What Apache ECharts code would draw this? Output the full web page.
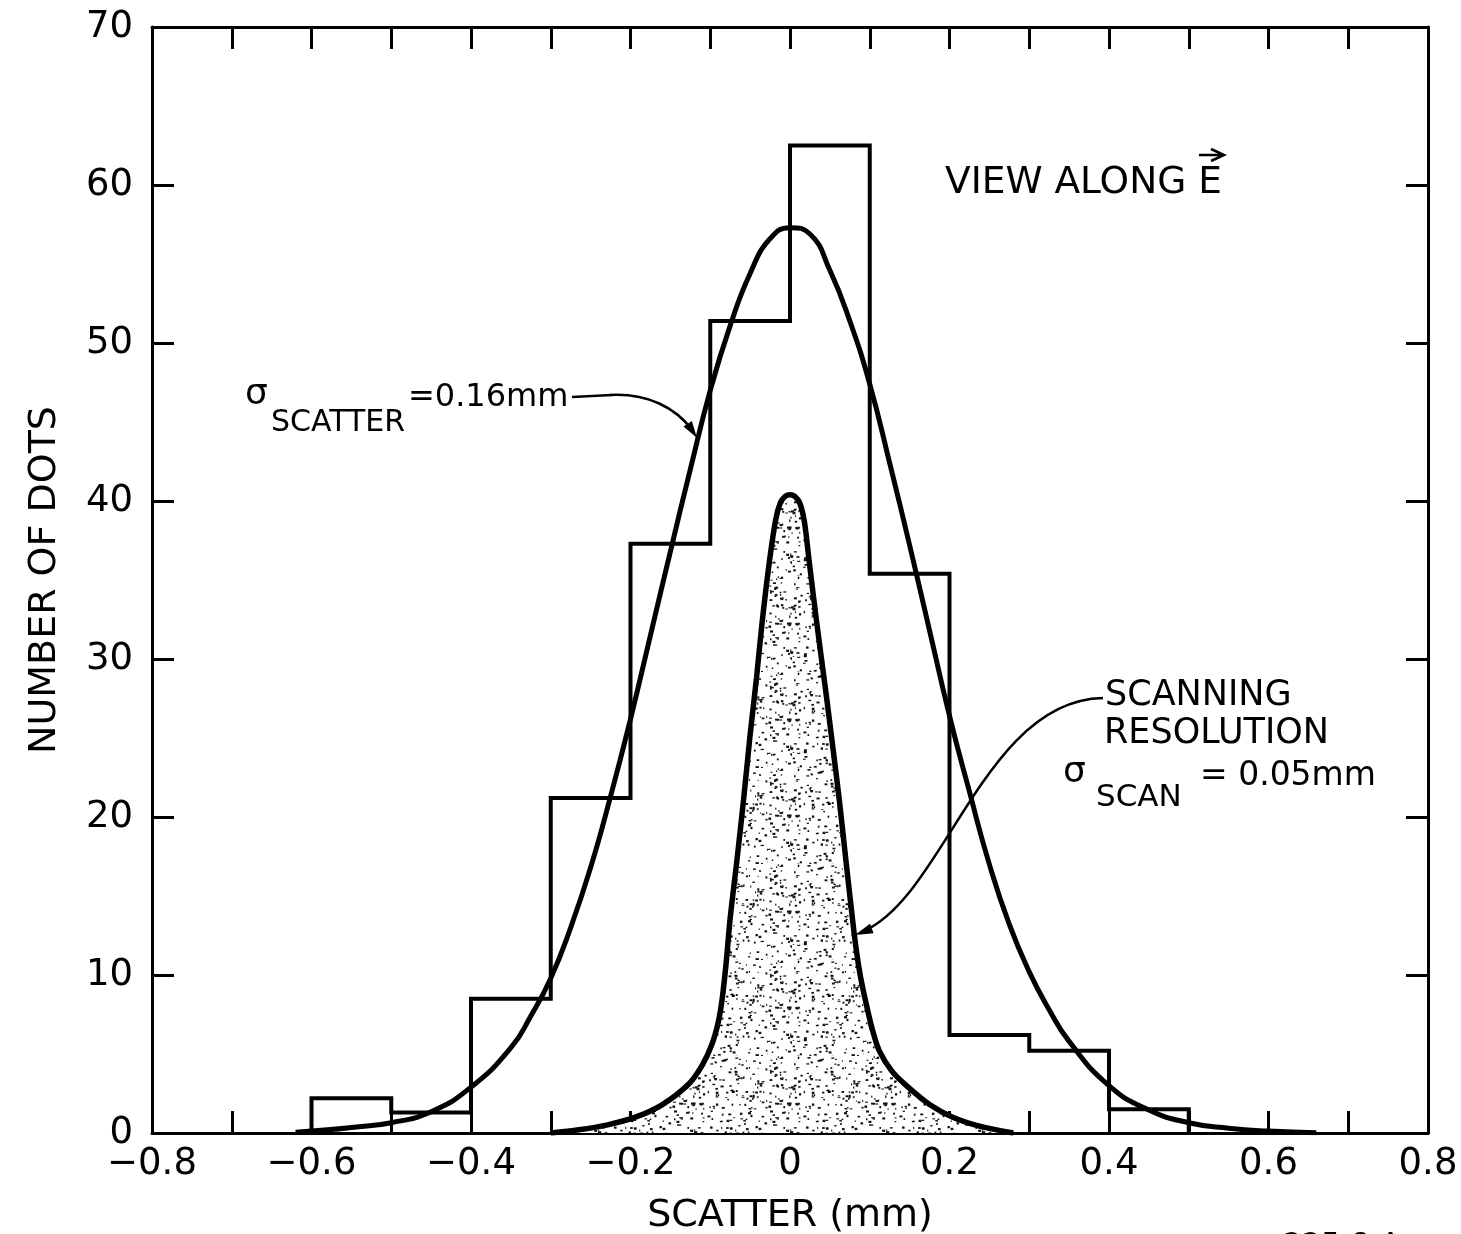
<!DOCTYPE html>
<html>
<head>
<meta charset="utf-8">
<script src="https://cdn.jsdelivr.net/npm/echarts@6/dist/echarts.min.js"></script>
<style>
html,body{margin:0;padding:0;background:#fff;}
#chart{width:1461px;height:1234px;}
</style>
</head>
<body>
<div id="chart"></div>
<script>
// ---- data ----
const xTickLabels = ['\u22120.8','\u22120.6','\u22120.4','\u22120.2','0','0.2','0.4','0.6','0.8'];
const yTickLabels = ['0','10','20','30','40','50','60','70'];

// histogram bin edges and counts
const binEdges  = [-0.6,-0.5,-0.4,-0.3,-0.2,-0.1,0.0,0.1,0.2,0.3,0.4,0.5];
const binCounts = [2.2, 1.3, 8.5, 21.2, 37.3, 51.4, 62.5, 35.4, 6.2, 5.2, 1.5];

// fitted scatter curve (sigma = 0.16 mm)
const scatterX = [-0.62,-0.58,-0.55,-0.50,-0.45,-0.40,-0.35,-0.325,-0.30,-0.275,-0.25,-0.225,-0.20,-0.175,-0.15,-0.125,-0.10,-0.075,-0.05,-0.025,0.00,0.025,0.05,0.075,0.10,0.125,0.15,0.175,0.20,0.225,0.25,0.275,0.30,0.325,0.35,0.40,0.45,0.50,0.55,0.60,0.66];
const scatterY = [0.05,0.2,0.35,0.65,1.35,2.9,5.4,7.4,9.8,13.0,16.8,21.3,26.2,31.5,36.8,42.0,47.0,51.1,54.4,56.6,57.3,56.9,54.6,51.4,47.4,42.4,37.2,31.8,26.4,21.6,17.0,13.2,10.2,7.8,5.8,3.0,1.45,0.65,0.3,0.12,0.02];

// scanning resolution curve (sigma = 0.05 mm)
const scanX = [-0.30,-0.265,-0.23,-0.194,-0.16,-0.127,-0.11,-0.098,-0.09,-0.085,-0.08,-0.075,-0.066,-0.058,-0.05,-0.042,-0.035,-0.026,-0.018,-0.012,-0.006,0.0,0.006,0.012,0.018,0.024,0.033,0.045,0.054,0.062,0.07,0.076,0.082,0.088,0.095,0.103,0.112,0.128,0.146,0.175,0.204,0.24,0.28];
const scanY = [0.0,0.2,0.5,1.0,1.8,3.1,4.3,5.6,7.0,8.5,10.8,13.6,17.5,21.2,25.2,28.8,32.3,36.1,38.8,39.9,40.3,40.4,40.3,39.9,38.7,36.2,32.5,27.9,24.3,21.0,17.3,14.6,12.0,10.0,8.3,6.6,5.2,3.9,3.0,1.8,1.0,0.4,0.0];

// ---- build series data ----
const histData = [[binEdges[0], 0]];
for (let i = 0; i < binCounts.length; i++) {
  histData.push([binEdges[i], binCounts[i]]);
  histData.push([binEdges[i + 1], binCounts[i]]);
}
histData.push([binEdges[binEdges.length - 1], 0]);
const scatterData = scatterX.map((x, i) => [x, scatterY[i]]);
const scanData = scanX.map((x, i) => [x, scanY[i]]);

// stipple texture (decorative only)
function makeStipple() {
  const c = document.createElement('canvas');
  c.width = 96; c.height = 96;
  const g = c.getContext('2d');
  g.fillStyle = '#fff'; g.fillRect(0, 0, 96, 96);
  g.fillStyle = '#111';
  let s = 987654;
  const r = () => { s = (s * 1103515245 + 12345) % 2147483648; return s / 2147483648; };
  for (let i = 0; i < 280; i++) {
    const x = r() * 96, y = r() * 96;
    const w = 1 + r() * 2.2, h = 1 + r() * 1.4;
    g.fillRect(x, y, w, h);
  }
  return c;
}

const FONT = '"DejaVu Sans", "Liberation Sans", sans-serif';
const chart = echarts.init(document.getElementById('chart'), null, {renderer: 'canvas'});

const axisLine = {show: true, onZero: false, lineStyle: {color: '#000', width: 3}};
const axisTick = {show: true, inside: true, length: 22, lineStyle: {color: '#000', width: 3}};

chart.setOption({
  animation: false,
  backgroundColor: '#fff',
  grid: {left: 152, right: 33, top: 27, bottom: 101, containLabel: false, outerBoundsMode: 'none'},
  xAxis: [
    {
      type: 'value', min: -0.8, max: 0.8, interval: 0.1, position: 'bottom',
      axisLine, axisTick, splitLine: {show: false},
      axisLabel: {
        color: '#000', fontSize: 37, fontFamily: FONT, margin: 13,
        formatter: v => { const k = Math.round((v + 0.8) * 10); return k % 2 === 0 ? xTickLabels[k / 2] : ''; }
      },
      name: 'SCATTER (mm)', nameLocation: 'middle', nameGap: 64,
      nameTextStyle: {color: '#000', fontSize: 38, fontFamily: FONT}
    },
    {
      type: 'value', min: -0.8, max: 0.8, interval: 0.1, position: 'top',
      axisLine, axisTick, splitLine: {show: false}, axisLabel: {show: false}
    }
  ],
  yAxis: [
    {
      type: 'value', min: 0, max: 70, interval: 10, position: 'left',
      axisLine, axisTick, splitLine: {show: false},
      axisLabel: {
        color: '#000', fontSize: 37, fontFamily: FONT, margin: 19,
        formatter: v => yTickLabels[Math.round(v / 10)]
      },
      name: 'NUMBER OF DOTS', nameLocation: 'middle', nameGap: 88, nameRotate: 90,
      nameTextStyle: {color: '#000', fontSize: 38, fontFamily: FONT}
    },
    {
      type: 'value', min: 0, max: 70, interval: 10, position: 'right',
      axisLine, axisTick, splitLine: {show: false}, axisLabel: {show: false}
    }
  ],
  series: [
    {
      name: 'scan', type: 'line', data: scanData, smooth: 0.3,
      symbol: 'none', z: 2,
      lineStyle: {color: '#000', width: 5.5},
      areaStyle: {color: {image: makeStipple(), repeat: 'repeat'}, opacity: 1}
    },
    {
      name: 'histogram', type: 'line', data: histData, symbol: 'none', z: 3,
      lineStyle: {color: '#000', width: 4, join: 'miter'}
    },
    {
      name: 'scatter', type: 'line', data: scatterData, smooth: 0.5,
      symbol: 'none', z: 4,
      lineStyle: {color: '#000', width: 5}
    }
  ]
});

// ---- annotations ----
function arrowHead(tip, from, len, half) {
  const dx = tip[0] - from[0], dy = tip[1] - from[1];
  const d = Math.hypot(dx, dy), ux = dx / d, uy = dy / d;
  const bx = tip[0] - ux * len, by = tip[1] - uy * len;
  return {
    type: 'polygon', z: 20,
    shape: {points: [[tip[0], tip[1]], [bx - uy * half, by + ux * half], [bx + uy * half, by - ux * half]]},
    style: {fill: '#000'}
  };
}
function txt(x, y, text, size, align) {
  return {
    type: 'text', x, y, z: 20,
    style: {text, fill: '#000', font: size + 'px ' + FONT, textAlign: align || 'left', textVerticalAlign: 'middle'}
  };
}
const lineStyle = {stroke: '#000', lineWidth: 2.5, fill: null};

chart.setOption({
  graphic: [
    // VIEW ALONG E
    txt(945, 183, 'VIEW ALONG E', 37.5),
    {type: 'line', z: 20, shape: {x1: 1199, y1: 155, x2: 1223, y2: 155}, style: {stroke: '#000', lineWidth: 2.5}},
    {type: 'polyline', z: 20, shape: {points: [[1211, 149], [1224, 155], [1211, 161]]}, style: {stroke: '#000', lineWidth: 2.5, fill: null}},

    // sigma scatter label
    txt(245, 395, '\u03c3', 36),
    txt(271, 423, 'SCATTER', 30),
    txt(408, 398, '=0.16mm', 32),
    {type: 'line', z: 20, shape: {x1: 572, y1: 397, x2: 612, y2: 395}, style: lineStyle},
    {type: 'bezierCurve', z: 20, shape: {x1: 610, y1: 395, cpx1: 648, cpy1: 393, cpx2: 676, cpy2: 408, x2: 692, y2: 430}, style: lineStyle},
    arrowHead([697, 438], [680, 412], 17, 5),

    // scanning resolution label
    txt(1105, 696, 'SCANNING', 35),
    txt(1104, 734, 'RESOLUTION', 35),
    txt(1063, 773, '\u03c3', 36),
    txt(1096, 798, 'SCAN', 31),
    txt(1200, 776, '= 0.05mm', 33),
    {type: 'bezierCurve', z: 20, shape: {x1: 1103, y1: 698, cpx1: 985, cpy1: 700, cpx2: 945, cpy2: 895, x2: 864, y2: 931}, style: lineStyle},
    arrowHead([855, 935], [945, 900], 18, 5),

    // figure code at bottom edge
    txt(1283, 1246, '225-8-A', 30)
  ]
});
</script>
</body>
</html>
